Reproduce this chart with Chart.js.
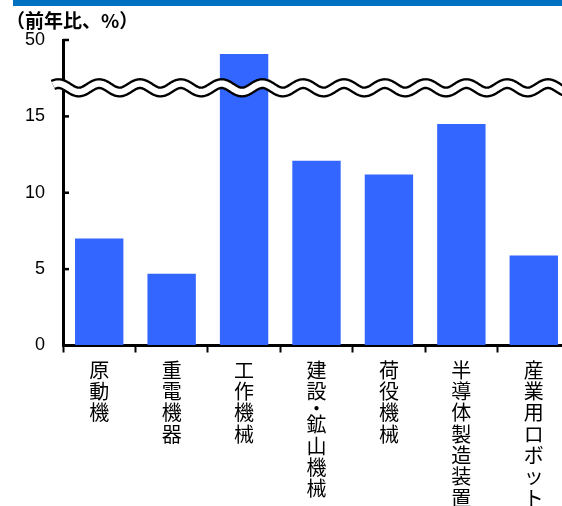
<!DOCTYPE html>
<html lang="ja">
<head>
<meta charset="utf-8">
<script src="https://cdn.jsdelivr.net/npm/chart.js@4.4.1/dist/chart.umd.min.js"></script>
<style>
    html, body { margin: 0; padding: 0; background: #fff; overflow: hidden; }
    #wrap { position: relative; width: 562px; height: 506px; overflow: hidden; }
    #top-band { position: absolute; left: 13px; top: 0; width: 549px; height: 6px; background: #0070c0; }
    #unit { position: absolute; left: 6px; top: 6px; font: bold 19px "Noto Sans CJK JP", sans-serif; color: #000; white-space: nowrap; }
    canvas { position: absolute; left: 0; top: 0; }
</style>
</head>
<body>
<div id="wrap">
    <canvas id="chart" width="580" height="506"></canvas>
    <div id="top-band"></div>
    <div id="unit">（前年比、%）</div>
</div>
<script>
// 前年比 (%)
const categories = ['原動機', '重電機器', '工作機械', '建設・鉱山機械', '荷役機械', '半導体製造装置', '産業用ロボット'];
const growth = [7.0, 4.7, 40, 12.1, 11.2, 14.5, 5.9];
const tickValues = [0, 5, 10, 15, 50];

// 軸の省略（波線）: 17%より上を圧縮
const breakFrom = 17;
const breakScale = 3 / 33;
const waveAt = 16.87;

function toAxis(v) {
    return v <= breakFrom ? v : breakFrom + (v - breakFrom) * breakScale;
}

function fromAxis(a) {
    return a <= breakFrom ? a : breakFrom + (a - breakFrom) / breakScale;
}

// y軸の目盛り線（内向き）
const yTickPlugin = {
    id: 'yTicksInside',
    afterDraw(chart) {
        const ctx = chart.ctx;
        const y = chart.scales.y;
        ctx.save();
        ctx.strokeStyle = '#000';
        ctx.lineWidth = 2.5;
        y.ticks.forEach(t => {
            const py = y.getPixelForValue(t.value);
            ctx.beginPath();
            ctx.moveTo(y.right, py);
            ctx.lineTo(y.right + 6, py);
            ctx.stroke();
        });
        ctx.restore();
    }
};

// 波線
const wavePlugin = {
    id: 'breakWave',
    afterDraw(chart) {
        const ctx = chart.ctx;
        const cy = chart.scales.y.getPixelForValue(waveAt);
        const amp = 4.2;
        const period = 40.8;
        const x0 = chart.scales.y.right - 10;
        const x1 = chart.width;
        ctx.save();
        ctx.beginPath();
        for (let x = x0; x <= x1; x += 1) {
            const yy = cy - amp * Math.cos(2 * Math.PI * (x - 548) / period);
            if (x === x0) ctx.moveTo(x, yy); else ctx.lineTo(x, yy);
        }
        ctx.lineCap = 'butt';
        ctx.lineJoin = 'round';
        ctx.strokeStyle = '#000';
        ctx.lineWidth = 11;
        ctx.stroke();
        ctx.strokeStyle = '#fff';
        ctx.lineWidth = 6.3;
        ctx.stroke();
        ctx.restore();
    }
};

// 縦書きの項目名
const verticalLabelPlugin = {
    id: 'verticalLabels',
    afterDraw(chart) {
        const ctx = chart.ctx;
        const x = chart.scales.x;
        ctx.save();
        ctx.fillStyle = '#000';
        ctx.font = '20px "Noto Sans CJK JP", sans-serif';
        ctx.textAlign = 'center';
        ctx.textBaseline = 'middle';
        categories.forEach((label, i) => {
            const px = x.getPixelForValue(i);
            let top = x.top + 14;
            Array.from(label).forEach(ch => {
                const h = ch === '・' ? 12 : 21.3;
                ctx.fillText(ch, px, top + h / 2);
                top += h;
            });
        });
        ctx.restore();
    }
};

const ctx = document.getElementById('chart').getContext('2d');
const myChart = new Chart(ctx, {
    type: 'bar',
    data: {
        labels: categories,
        datasets: [{
            label: '前年比',
            data: growth.map(toAxis),
            backgroundColor: '#3366ff',
            borderWidth: 0,
            barPercentage: 0.668,
            categoryPercentage: 1
        }]
    },
    options: {
        responsive: false,
        animation: false,
        layout: {
            padding: { left: 0, top: 40, right: 10, bottom: 0 }
        },
        plugins: {
            legend: { display: false },
            tooltip: { enabled: false }
        },
        scales: {
            x: {
                grid: {
                    drawOnChartArea: false,
                    offset: true,
                    tickLength: 7,
                    tickWidth: 2,
                    tickColor: '#000'
                },
                border: { color: '#000', width: 3 },
                ticks: { display: false },
                afterFit(scale) { scale.height = 160.5; }
            },
            y: {
                min: 0,
                max: toAxis(50),
                afterBuildTicks(scale) {
                    scale.ticks = tickValues.map(v => ({ value: toAxis(v) }));
                },
                ticks: {
                    padding: 18,
                    color: '#000',
                    font: { family: 'Liberation Sans', size: 18 },
                    callback: value => String(Math.round(fromAxis(value)))
                },
                grid: { drawOnChartArea: false, drawTicks: false },
                border: { color: '#000', width: 3 },
                afterFit(scale) { scale.width = 63; }
            }
        }
    },
    plugins: [yTickPlugin, wavePlugin, verticalLabelPlugin]
});
</script>
</body>
</html>
